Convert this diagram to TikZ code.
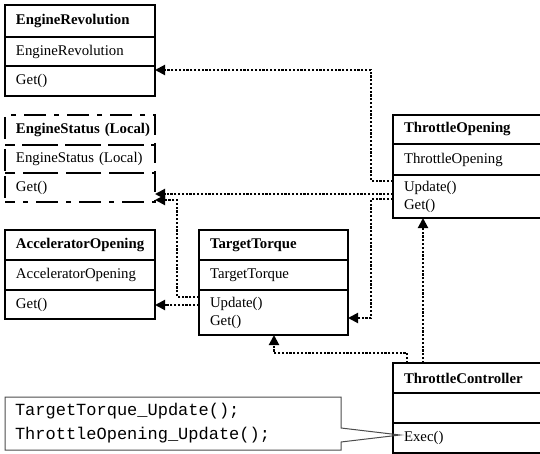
\documentclass[tikz,border=0pt]{standalone}
\usepackage{fontspec}
\setmainfont{Liberation Serif}
\setmonofont{Liberation Mono}
\usetikzlibrary{arrows.meta,calc}
\begin{document}
\begin{tikzpicture}[x=1pt,y=-1pt,
  cell/.style={draw, line width=2pt, anchor=north west, outer sep=0pt,
    inner xsep=11pt, inner ysep=0pt, align=left,
    font=\fontsize{14.8}{18}\selectfont},
  wa/.style={cell, text width=128pt},
  wb/.style={cell, text width=127pt},
  wc/.style={cell, text width=130pt},
  hd/.style={font=\fontsize{14.8}{18}\selectfont\bfseries},
  dashdot/.style={dash pattern=on 22pt off 8pt on 5pt off 8pt, dash phase=12pt},
  dep/.style={line width=2pt, dash pattern=on 2.2pt off 1.6pt,
    -{Triangle[length=10pt,width=10pt]}},
  codeline/.style={draw=black!70, line width=1pt}
]
\useasboundingbox (0,0) rectangle (540,454);

% EngineRevolution
\node[wa, hd, minimum height=32pt] (er1) at (5,5) {EngineRevolution};
\node[wa, minimum height=29pt] (er2) at (5,37) {EngineRevolution};
\node[wa, minimum height=30pt] (er3) at (5,66) {Get()};

% EngineStatus (Local)
\node[wa, hd, dashdot, minimum height=30pt] (es1) at (5,115) {\mbox{EngineStatus (Local)}};
\node[wa, dashdot, minimum height=28pt] (es2) at (5,145) {\mbox{EngineStatus (Local)}};
\node[wa, dashdot, minimum height=29pt] (es3) at (5,173) {Get()};

% AcceleratorOpening
\node[wa, hd, minimum height=30pt] (ao1) at (5,230) {AcceleratorOpening};
\node[wa, minimum height=30pt] (ao2) at (5,260) {AcceleratorOpening};
\node[wa, minimum height=29pt] (ao3) at (5,290) {Get()};

% TargetTorque
\node[wb, hd, minimum height=30pt] (tt1) at (199,230) {TargetTorque};
\node[wb, minimum height=30pt] (tt2) at (199,260) {TargetTorque};
\node[wb, minimum height=45pt] (tt3) at (199,290) {Update()\\Get()};

% ThrottleOpening
\node[wc, hd, minimum height=29pt] (to1) at (393,115) {ThrottleOpening};
\node[wc, minimum height=31pt] (to2) at (393,144) {ThrottleOpening};
\node[wc, minimum height=43pt] (to3) at (393,175) {Update()\\Get()};

% ThrottleController
\node[wc, hd, minimum height=30pt] (tc1) at (393,363) {ThrottleController};
\node[wc, minimum height=30pt] (tc2) at (393,393) {};
\node[wc, minimum height=30pt] (tc3) at (393,423) {Exec()};

% code note
\node[anchor=north west, outer sep=0pt, inner xsep=10pt, inner ysep=0pt,
  minimum width=336pt, minimum height=53pt, text width=316pt, align=left,
  font=\ttfamily\fontsize{17}{24}\selectfont] (code) at (5,397)
  {TargetTorque\_Update();\\ThrottleOpening\_Update();};
\draw[codeline] (code.north west) -- (code.north east)
  -- ($(code.north east)+(0,31)$) -- ($(tc3.north west)+(7,12)$)
  -- ($(code.north east)+(0,45)$) -- (code.south east)
  -- (code.south west) -- cycle;

% dependencies
\draw[dep] ($(to3.north west)+(0,6)$) -- ++(-22,0) |- ($(er3.north east)+(0,4)$);
\draw[dep] ($(to3.north west)+(0,19)$) -- ($(es3.north east)+(0,21)$);
\draw[dep] ($(to3.north west)+(0,24)$) -- ++(-22,0) |- ($(tt3.north east)+(0,28)$);
\draw[dep] ($(tt3.north west)+(0,7)$) -- ++(-22,0) |- ($(es3.north east)+(0,27)$);
\draw[dep] ($(tt3.north west)+(0,15)$) -- ($(ao3.north east)+(0,15)$);
\draw[dep] ($(tc1.north west)+(30,0)$) -- ($(to3.south west)+(30,0)$);
\draw[dep] ($(tc1.north west)+(14,0)$) -- ++(0,-10) -| ($(tt3.south west)+(75,0)$);
\end{tikzpicture}
\end{document}
